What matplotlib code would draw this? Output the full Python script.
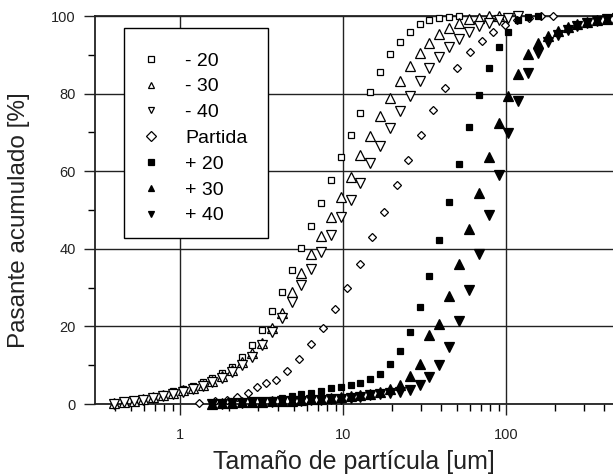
import matplotlib
matplotlib.use("Agg")
import matplotlib.pyplot as plt
from matplotlib.patches import Rectangle
from matplotlib.ticker import FixedLocator, NullFormatter

plt.rcParams["font.family"] = ["Liberation Sans", "DejaVu Sans"]

# common size grid of the analyser [um]
size_grid = [0.393, 0.452, 0.519, 0.597, 0.686, 0.789, 0.907, 1.04, 1.20, 1.38,
             1.58, 1.82, 2.09, 2.40, 2.76, 3.18, 3.65, 4.20, 4.83, 5.55,
             6.38, 7.33, 8.42, 9.68, 11.13, 12.79, 14.71, 16.9, 19.43, 22.3,
             25.7, 29.5, 33.9, 39.0, 44.8, 51.5, 59.2, 68.1, 78.3, 90.0,
             103.4, 118.9, 136.6, 157.0, 180.5, 207.5, 238.5, 274.2, 315.2, 362.2,
             416.4, 478.6]

m20_val = [0.3, 0.6, 1.0, 1.4, 1.9, 2.6, 3.4, 3.9, 4.7, 5.6, 6.6, 7.9, 9.6, 12.2,
           15.2, 19.2, 24.0, 28.9, 34.5, 40.3, 46.0, 51.9, 57.7,
           63.7, 69.3, 75.1, 80.5, 85.5, 90.1, 93.4, 96.0, 98.0, 99.0, 99.5, 99.8, 100]
m30_val = [0.2, 0.5, 0.9, 1.3, 1.8, 2.3, 2.9, 3.5, 4.2, 5.0, 6.0, 7.2, 8.8, 10.8,
           13.1, 15.6, 19.5, 23.4, 28.9, 33.7, 38.7, 43.3, 48.3,
           53.4, 58.6, 64.2, 69.1, 74.2, 78.8, 83.3, 87.2, 90.5, 93.1, 95.3, 96.8,
           98.3, 99.1, 99.6, 99.9, 100]
m40_val = [0.1, 0.4, 0.7, 1.1, 1.6, 2.1, 2.6, 3.2, 3.9, 4.7, 5.6, 6.8, 8.2, 10.0,
           12.2, 15.2, 18.6, 22.1, 26.4, 30.7, 34.7, 39.3, 43.6,
           48.3, 52.6, 57.0, 62.0, 66.6, 71.2, 75.6, 79.4, 83.3, 86.5, 89.5, 92.1,
           94.2, 95.8, 97.3, 98.3, 99.0, 99.6, 100]
p20_val = [0.2, 0.3, 0.4, 0.5, 0.6, 0.9, 1.1, 1.6, 2.1, 2.5, 2.9, 3.4, 4.0,
           4.5, 4.9, 5.5, 6.4, 7.7, 10.2, 13.7, 18.6, 25.1, 33.1, 42.3, 52.1,
           61.8, 71.3, 79.6, 86.5, 91.9, 95.8, 99.0, 99.8, 100]
p30_val = [0.1, 0.2, 0.3, 0.4, 0.5, 0.6, 0.7, 0.8, 0.9, 1.0, 1.2, 1.4, 1.6,
           1.8, 2.0, 2.3, 2.7, 3.1, 3.8, 4.8, 7.2, 10.4, 17.7, 20.7, 27.8, 36.0,
           45.0, 54.5, 63.7, 72.3, 79.3, 85.0, 90.2, 93.0, 94.8, 96.2, 97.2, 97.9,
           98.5, 99.0, 99.3, 99.6]
p40_val = [0.1, 0.1, 0.2, 0.3, 0.4, 0.5, 0.6, 0.7, 0.8, 0.9, 1.0, 1.1, 1.2,
           1.4, 1.6, 1.9, 2.2, 2.5, 2.9, 3.2, 3.7, 5.0, 6.9, 10.1, 14.8, 21.5,
           29.4, 38.7, 48.7, 59.0, 69.8, 78.0, 85.3, 90.5, 93.2, 95.0, 96.4, 97.4,
           98.1, 98.7, 99.1, 99.4]

# the feed sample was measured on its own grid
partida_size = [1.308, 1.640, 1.934, 2.247, 2.624, 2.955, 3.371, 3.881, 4.514, 5.370,
                6.365, 7.507, 8.93, 10.54, 12.72, 15.00, 17.84, 21.35, 25.16, 29.98,
                35.81, 42.25, 50.26, 60.13, 70.95, 83.58, 98.6, 116.8, 138.4, 163.9,
                194.2]
partida_val = [0.3, 0.9, 1.0, 1.9, 2.8, 4.5, 5.3, 6.2, 8.5, 11.7, 15.4, 19.7, 24.4,
               29.8, 36.1, 43.0, 49.6, 56.4, 62.9, 69.3, 75.8, 81.4, 86.5, 90.6,
               93.6, 96.0, 97.7, 99.0, 99.6, 100, 100]

labels = ["- 20", "- 30", "- 40", "Partida", "+ 20", "+ 30", "+ 40"]

series = [
    (size_grid[0:36], m20_val, "s", "white", 5.0),
    (size_grid[0:40], m30_val, "^", "white", 7.0),
    (size_grid[0:42], m40_val, "v", "white", 7.0),
    (partida_size, partida_val, "D", "white", 4.5),
    (size_grid[10:44], p20_val, "s", "black", 5.0),
    (size_grid[10:52], p30_val, "^", "black", 7.0),
    (size_grid[10:52], p40_val, "v", "black", 7.0),
]

fig = plt.figure(figsize=(6.13, 4.74), dpi=100)
ax = fig.add_axes([95 / 613, 1 - 404 / 474, 1 - 95 / 613, (404 - 16) / 474])

for (xs, ys, mk, fc, ms), lab in zip(series, labels):
    ax.plot(xs, ys, linestyle="none", marker=mk, markersize=ms,
            markerfacecolor=fc, markeredgecolor="black", markeredgewidth=0.9,
            label=lab, clip_on=False, zorder=3)

ax.set_xscale("log")
ax.set_xlim(0.301, 453)
ax.set_ylim(0, 100)

ax.xaxis.set_major_locator(FixedLocator([1, 10, 100]))
ax.set_xticklabels(["1", "10", "100"])
minor_x = [m * d for d in (0.1, 1, 10, 100) for m in range(2, 10)]
ax.xaxis.set_minor_locator(FixedLocator(minor_x))
ax.xaxis.set_minor_formatter(NullFormatter())
ax.set_yticks([0, 20, 40, 60, 80, 100])
ax.set_yticks([10, 30, 50, 70, 90], minor=True)

ax.tick_params(which="major", direction="out", length=8, width=1.0,
               labelsize=10.5, colors="#222222", pad=6)
ax.tick_params(which="minor", direction="out", length=5, width=1.0)
ax.tick_params(axis="x", which="major", pad=9)

ax.grid(True, which="major", color="#222222", linewidth=1.0)
ax.set_axisbelow(True)
for side in ["left", "bottom", "top"]:
    ax.spines[side].set_linewidth(1.3)
    ax.spines[side].set_color("#222222")
ax.spines["right"].set_visible(False)

ax.set_xlabel("Tamaño de partícula [um]", fontsize=18, color="#222222", labelpad=6)
ax.set_ylabel("Pasante acumulado [%]", fontsize=17.5, color="#222222")
ax.yaxis.set_label_coords(-0.125, 0.475)

# legend box drawn separately so its size can match the original
box = Rectangle((0.056, 0.428), 0.278, 0.541, transform=ax.transAxes,
                facecolor="white", edgecolor="black", linewidth=1.0, zorder=4)
ax.add_patch(box)
leg = ax.legend(loc="upper left", bbox_to_anchor=(0.0898, 0.907), fontsize=14,
                frameon=False, handlelength=1.0, handletextpad=1.24,
                labelspacing=0.42, borderpad=0, borderaxespad=0)
leg.set_zorder(5)
for h in leg.legend_handles:
    h.set_markersize(5)

fig.savefig("out.png", dpi=100)
plt.close(fig)
